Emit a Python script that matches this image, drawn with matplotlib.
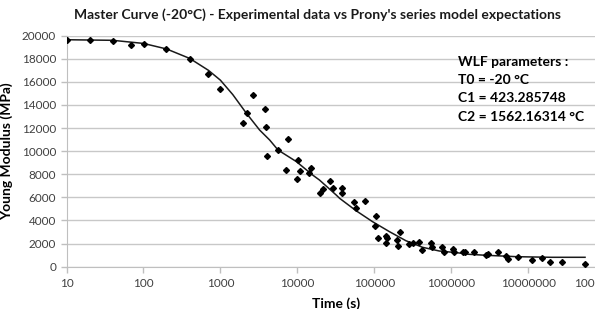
import numpy as np
import matplotlib
matplotlib.use("Agg")
import matplotlib.pyplot as plt

plt.rcParams['font.family'] = ['Lato', 'DejaVu Sans']

# experimental points (time in s, modulus in MPa)
exp_time = [10, 20, 40, 69, 101, 197, 400, 698, 980, 1963, 2213, 2650, 3837, 3908,
            4018, 5586, 7030, 7534, 9770, 10140, 10890, 14390, 15280, 19800, 21900,
            26400, 28900, 37800, 37800, 55200, 58000, 76000, 101000, 107000, 112000,
            142000, 142000, 146000, 195000, 203000, 218000, 285000, 315000, 377000,
            412000, 546000, 556000, 757000, 811000, 1070000, 1100000, 1430000,
            1520000, 2000000, 2820000, 3020000, 4070000, 5200000, 5500000, 7300000,
            11100000, 15000000, 19200000, 27300000, 54700000]
exp_modulus = [19650, 19600, 19540, 19195, 19255, 18820, 17955, 16660, 15385, 12415,
               13335, 14866, 13680, 12070, 9610, 10104, 8372, 11030, 7593, 9238, 8312,
               8087, 8545, 6407, 6700, 7420, 6840, 6788, 6350, 5602, 5056, 5662, 3550,
               4416, 2511, 2684, 2026, 2511, 2312, 1792, 2978, 1965, 2078, 2113, 1446,
               2026, 1680, 1680, 1299, 1506, 1299, 1299, 1299, 1247, 987, 1100, 1273,
               926, 693, 840, 554, 779, 407, 381, 208]

# Prony series model curve
model_time = [10, 40, 100, 200, 400, 700, 1000, 1450, 2170, 3240, 4370, 5620, 9770,
              15800, 19400, 32000, 35500, 58000, 95000, 158000, 258000, 425000,
              700000, 1200000, 1700000, 2800000, 7200000, 20000000, 55000000]
model_modulus = [19650, 19600, 19330, 18850, 18030, 17000, 16150, 14900, 13300, 11830,
                 10970, 10100, 9090, 7940, 7506, 6210, 5920, 4850, 3900, 3030, 2250,
                 1680, 1360, 1210, 1074, 990, 866, 814, 814]

x_ticks = [10, 100, 1000, 10000, 100000, 1000000, 10000000, 100000000]
y_ticks = list(range(0, 20001, 2000))
wlf_lines = ["WLF parameters :", "T0 = -20 \u00b0C", "C1 = 423.285748", "C2 = 1562.16314 \u00b0C"]

fig = plt.figure(figsize=(5.95, 3.09), dpi=100)
ax = fig.add_axes([0.1118, 0.1369, 0.905, 0.7476])

ax.plot(model_time, model_modulus, color="#1a1a1a", lw=1.1, zorder=3)
ax.plot(exp_time, exp_modulus, ls="none", marker="D", ms=3.0, color="black", zorder=4)

ax.set_xscale("log")
ax.set_xlim(10, 1e8)
ax.set_ylim(0, 20000)
ax.set_xticks(x_ticks)
ax.set_xticklabels([str(t) for t in x_ticks])
ax.xaxis.set_minor_locator(matplotlib.ticker.NullLocator())
ax.set_yticks(y_ticks)
ax.set_yticklabels([str(v) for v in y_ticks])
ax.grid(axis="y", color="#c8c8c8", lw=1)
ax.set_axisbelow(True)

for side in ("top", "right"):
    ax.spines[side].set_visible(False)
for side in ("left", "bottom"):
    ax.spines[side].set_color("#bfbfbf")
ax.tick_params(axis="both", colors="#bfbfbf", labelcolor="#404040", labelsize=8.5,
               length=4, width=1)
ax.tick_params(axis="x", pad=4)

ax.set_xlabel("Time (s)", fontsize=10, fontweight="bold", labelpad=6)
ax.set_ylabel("Young Modulus (MPa)", fontsize=10, fontweight="bold", labelpad=6)

fig.text(0.533, 0.952, "Master Curve (-20\u00b0C) - Experimental data vs Prony's series model expectations",
         ha="center", va="center", fontsize=10, fontweight="bold", color="#1a1a1a")

for i, line in enumerate(wlf_lines):
    fig.text(0.769, 1 - (62 + i * 18.2) / 309, line, ha="left", va="center",
             fontsize=10, fontweight="bold", color="black")

fig.savefig("out.png", dpi=100)
